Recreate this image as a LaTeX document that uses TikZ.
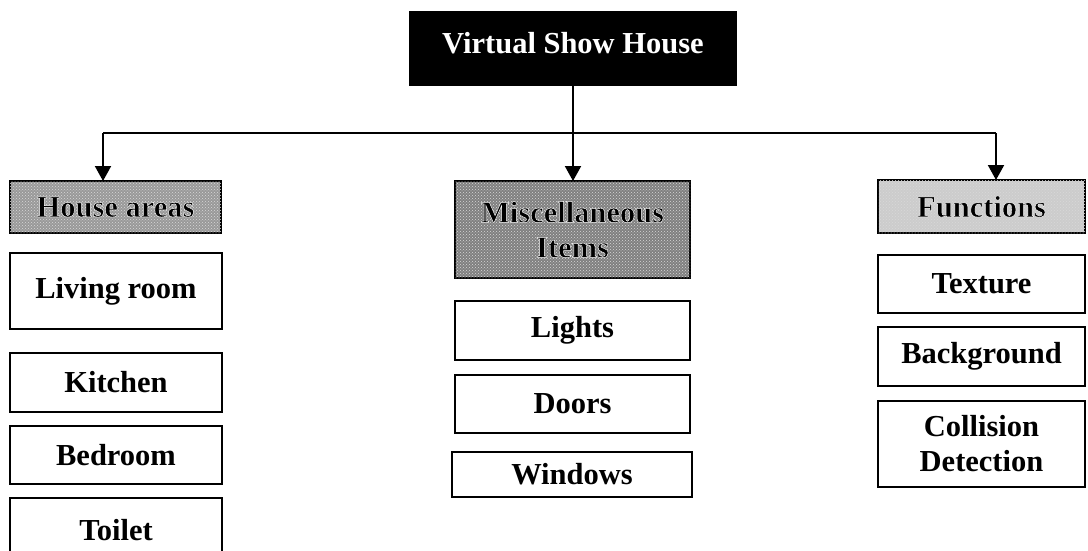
\documentclass[tikz,border=0pt]{standalone}
\usepackage{fontspec}
\setmainfont{Liberation Serif}
\usetikzlibrary{arrows.meta,patterns}

% bold label drawn filled black and stroked with a thin white rim
\newcommand{\halo}[1]{%
  \special{pdf:literal direct 2 Tr 1 1 1 RG 0.45 w}#1\special{pdf:literal direct 0 Tr 0 0 0 RG 0.4 w}}

\begin{document}
\begin{tikzpicture}[x=1pt,y=-1pt,
  itembox/.style={draw, line width=2.2pt, fill=white, inner sep=0pt, outer sep=0pt,
    align=center, font=\bfseries\fontsize{30.5}{35}\selectfont},
  headbox/.style={itembox, postaction={pattern=crosshatch dots, pattern color=white!85!black}},
  titlebox/.style={fill=black, text=white, inner sep=0pt, outer sep=0pt,
    font=\bfseries\fontsize{30.5}{35}\selectfont},
  wire/.style={line width=2pt},
  feed/.style={wire, -{Triangle[width=16pt,length=15pt]}}]
\useasboundingbox (0,0) rectangle (1088,551);

% root
\node[titlebox, minimum width=328, minimum height=75, text depth=12pt] (root) at (573,48.5) {Virtual Show House};

% category headers
\node[headbox, fill=black!40, minimum width=211, minimum height=52] (house) at (115.5,207) {\halo{House areas}};
\node[headbox, fill=black!50, minimum width=235, minimum height=97] (misc) at (572.5,229.5) {\halo{Miscellaneous}\\\halo{Items}};
\node[headbox, fill=black!20, minimum width=207, minimum height=53] (func) at (981.5,206.5) {\halo{Functions}};

% house areas
\node[itembox, minimum width=212, minimum height=76] (living) at (116,291) {Living room};
\node[itembox, minimum width=212, minimum height=59] (kitchen) at (116,382.5) {Kitchen};
\node[itembox, minimum width=212, minimum height=58] (bedroom) at (116,455) {Bedroom};
\node[itembox, minimum width=212, minimum height=64] (toilet) at (116,530) {Toilet};

% miscellaneous items
\node[itembox, minimum width=235, minimum height=59] (lights) at (572.5,330.5) {Lights};
\node[itembox, minimum width=235, minimum height=58] (doors) at (572.5,404) {Doors};
\node[itembox, line width=1.4pt, minimum width=240, minimum height=45] (windows) at (572,474.5) {Windows};

% functions
\node[itembox, minimum width=207, minimum height=58] (texture) at (981.5,284) {Texture};
\node[itembox, minimum width=207, minimum height=59] (background) at (981.5,356.5) {Background};
\node[itembox, minimum width=207, minimum height=86] (collision) at (981.5,444) {Collision\\Detection};

% distribution bus
\coordinate (busL) at (103,133);
\coordinate (busR) at (996,133);
\draw[line width=1.4pt] (root.south) -- (root.south |- busL);
\draw[wire] (busL) -- (busR);
\draw[feed] (busL) -- (busL |- house.north);
\draw[feed] (root.south |- busL) -- (root.south |- misc.north);
\draw[feed] (busR) -- (busR |- func.north);
\end{tikzpicture}
\end{document}
